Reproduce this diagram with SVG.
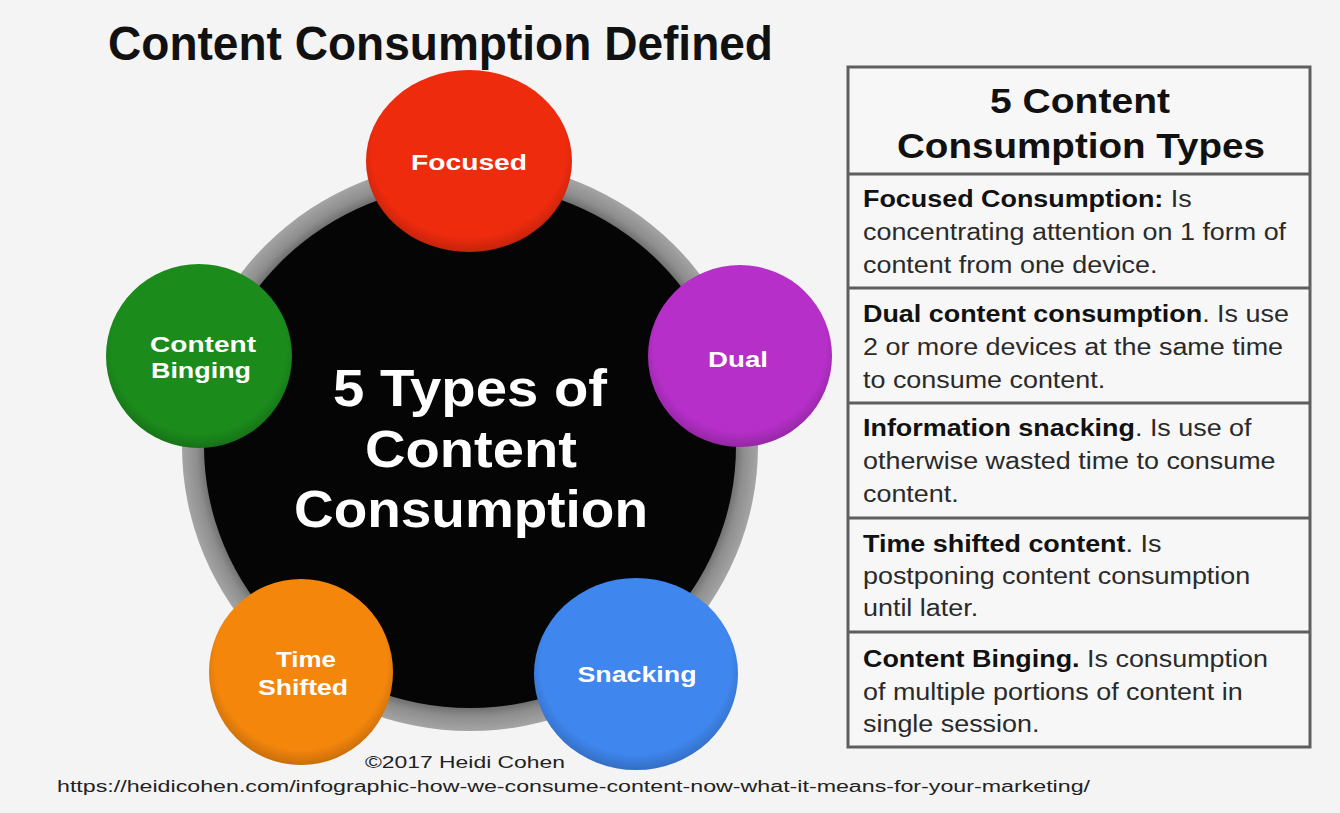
<svg xmlns="http://www.w3.org/2000/svg" width="1340" height="813" viewBox="0 0 1340 813">
  <style>
    .title { font-family: "Liberation Sans", Arial, sans-serif; font-weight: bold; fill: #111; }
    .hub { font-family: "Liberation Sans", Arial, sans-serif; font-weight: bold; font-size: 52px; fill: #fff; text-anchor: middle; }
    .lbl { font-family: "Liberation Sans", Arial, sans-serif; font-weight: bold; font-size: 22px; fill: #fff; text-anchor: middle; }
    .head { font-family: "Liberation Sans", Arial, sans-serif; font-weight: bold; font-size: 35px; fill: #111; text-anchor: middle; }
    .row { font-family: "Liberation Sans", Arial, sans-serif; font-size: 23px; fill: #2a2a2a; }
    .row .b { font-weight: bold; fill: #111; }
    .rule { stroke: #5e5e5e; stroke-width: 3; fill: none; }
    .credit { font-family: "Liberation Sans", Arial, sans-serif; fill: #222; }
  </style>
  <defs>
    <radialGradient id="ringGrad" cx="0.5" cy="0.5" r="0.5">
      <stop offset="0.90" stop-color="#5c5c5c"/>
      <stop offset="0.95" stop-color="#8e8e8e"/>
      <stop offset="1" stop-color="#a4a4a4"/>
    </radialGradient>
    <radialGradient id="shade" cx="0.5" cy="0.45" r="0.55">
      <stop offset="0.85" stop-color="#000" stop-opacity="0"/>
      <stop offset="1" stop-color="#000" stop-opacity="0.18"/>
    </radialGradient>
  </defs>

  <!-- page background -->
  <rect x="0" y="0" width="1340" height="813" fill="#f4f4f4"/>

  <!-- heading -->
  <text class="title" x="108" y="60" font-size="48" textLength="665" lengthAdjust="spacingAndGlyphs">Content Consumption Defined</text>

  <!-- central hub: grey ring and black disc -->
  <g id="hub">
    <ellipse cx="470" cy="446" rx="288" ry="285" fill="url(#ringGrad)"/>
    <ellipse cx="470" cy="446" rx="266" ry="262" fill="#050505"/>
    <text class="hub" x="470" y="406" textLength="274" lengthAdjust="spacingAndGlyphs">5 Types of</text>
    <text class="hub" x="471" y="467" textLength="212" lengthAdjust="spacingAndGlyphs">Content</text>
    <text class="hub" x="471" y="527" textLength="354" lengthAdjust="spacingAndGlyphs">Consumption</text>
  </g>

  <g id="connectors"/>

  <!-- the five consumption types around the hub -->
  <g id="node-focused">
    <ellipse cx="469" cy="161" rx="103" ry="91" fill="#ef2b0e"/>
    <ellipse cx="469" cy="161" rx="103" ry="91" fill="url(#shade)"/>
    <text class="lbl" x="469" y="170" textLength="116" lengthAdjust="spacingAndGlyphs">Focused</text>
  </g>

  <g id="node-dual">
    <ellipse cx="740" cy="356" rx="92" ry="91" fill="#b52fc8"/>
    <ellipse cx="740" cy="356" rx="92" ry="91" fill="url(#shade)"/>
    <text class="lbl" x="738" y="367" textLength="60" lengthAdjust="spacingAndGlyphs">Dual</text>
  </g>

  <g id="node-binging">
    <ellipse cx="199" cy="356" rx="93" ry="92" fill="#1b8c1c"/>
    <ellipse cx="199" cy="356" rx="93" ry="92" fill="url(#shade)"/>
    <text class="lbl" x="203" y="352" textLength="106" lengthAdjust="spacingAndGlyphs">Content</text>
    <text class="lbl" x="201" y="378" textLength="100" lengthAdjust="spacingAndGlyphs">Binging</text>
  </g>

  <g id="node-shifted">
    <ellipse cx="301" cy="672" rx="92" ry="93" fill="#f4860c"/>
    <ellipse cx="301" cy="672" rx="92" ry="93" fill="url(#shade)"/>
    <text class="lbl" x="306" y="667" textLength="60" lengthAdjust="spacingAndGlyphs">Time</text>
    <text class="lbl" x="303" y="695" textLength="90" lengthAdjust="spacingAndGlyphs">Shifted</text>
  </g>

  <g id="node-snacking">
    <ellipse cx="636" cy="674" rx="102" ry="96" fill="#3f86ee"/>
    <ellipse cx="636" cy="674" rx="102" ry="96" fill="url(#shade)"/>
    <text class="lbl" x="637" y="682" textLength="119" lengthAdjust="spacingAndGlyphs">Snacking</text>
  </g>

  <!-- definitions table -->
  <g id="types-table">
    <rect x="848" y="67" width="462" height="680" fill="#f7f7f7"/>
    <rect class="rule" x="848" y="67" width="462" height="680"/>
    <line class="rule" x1="848" y1="174" x2="1310" y2="174"/>
    <line class="rule" x1="848" y1="288" x2="1310" y2="288"/>
    <line class="rule" x1="848" y1="403" x2="1310" y2="403"/>
    <line class="rule" x1="848" y1="518" x2="1310" y2="518"/>
    <line class="rule" x1="848" y1="632" x2="1310" y2="632"/>

    <text class="head" x="1080" y="113" textLength="180" lengthAdjust="spacingAndGlyphs">5 Content</text>
    <text class="head" x="1081" y="158" textLength="368" lengthAdjust="spacingAndGlyphs">Consumption Types</text>

    <g class="row" transform="translate(863 0) scale(1.17 1)">
      <text x="0" y="207"><tspan class="b">Focused Consumption:</tspan> Is</text>
      <text x="0" y="240">concentrating attention on 1 form of</text>
      <text x="0" y="273">content from one device.</text>

      <text x="0" y="322"><tspan class="b">Dual content consumption</tspan>. Is use</text>
      <text x="0" y="355">2 or more devices at the same time</text>
      <text x="0" y="388">to consume content.</text>

      <text x="0" y="436"><tspan class="b">Information snacking</tspan>. Is use of</text>
      <text x="0" y="469">otherwise wasted time to consume</text>
      <text x="0" y="502">content.</text>

      <text x="0" y="552"><tspan class="b">Time shifted content</tspan>. Is</text>
      <text x="0" y="584">postponing content consumption</text>
      <text x="0" y="616">until later.</text>

      <text x="0" y="667"><tspan class="b">Content Binging.</tspan> Is consumption</text>
      <text x="0" y="700">of multiple portions of content in</text>
      <text x="0" y="732">single session.</text>
    </g>
  </g>

  <!-- credits -->
  <text class="credit" x="365" y="768" font-size="17" textLength="200" lengthAdjust="spacingAndGlyphs">©2017 Heidi Cohen</text>
  <text class="credit" x="57" y="792" font-size="16" textLength="1033" lengthAdjust="spacingAndGlyphs">https://heidicohen.com/infographic-how-we-consume-content-now-what-it-means-for-your-marketing/</text>
</svg>
